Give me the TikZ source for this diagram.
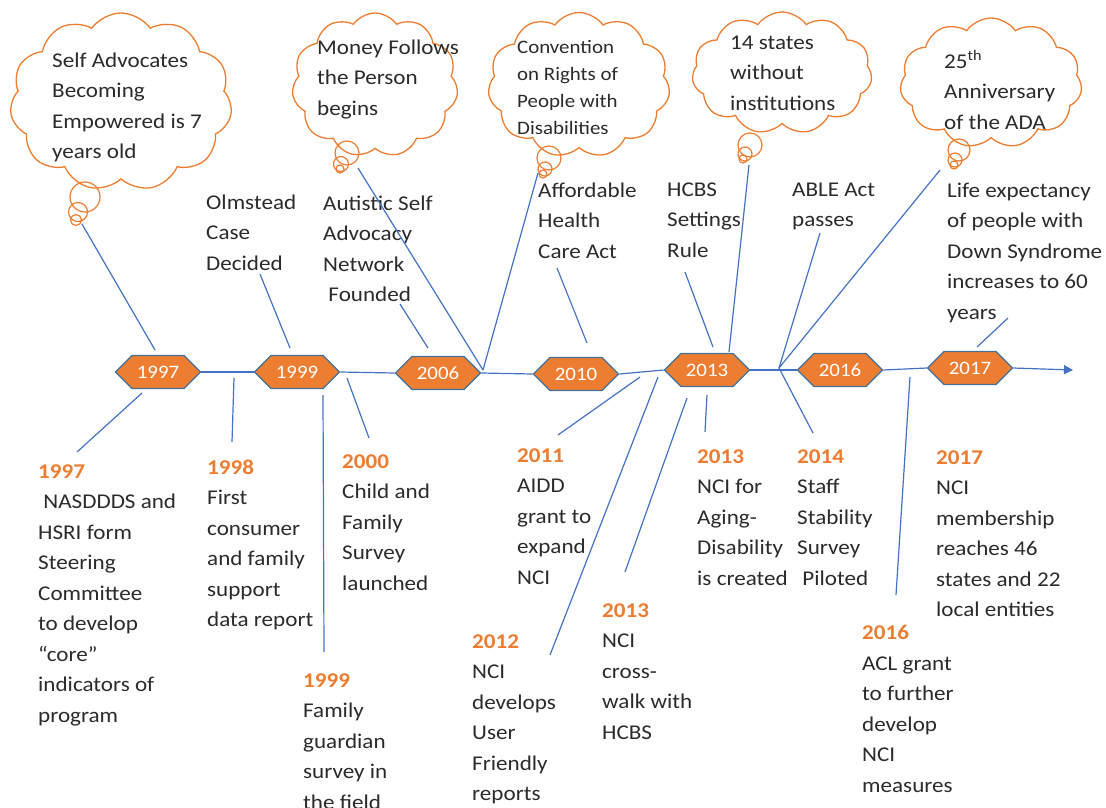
\documentclass[tikz,border=0pt]{standalone}
\usepackage{fontspec}
\setmainfont{Carlito}[FakeStretch=1.1]
\usetikzlibrary{shapes.symbols,arrows.meta}
\definecolor{org}{HTML}{ED7D31}
\definecolor{ln}{HTML}{4472C4}
\definecolor{hexb}{HTML}{41719C}
\definecolor{txtc}{HTML}{2B2B2B}
\newcommand\yearlbl[1]{\textcolor{org}{\bfseries #1}}
\begin{document}
\begin{tikzpicture}[x=1pt,y=-1pt,
 hexa/.style={signal, signal to=east and west, signal pointer angle=90, fill=org, draw=hexb, line width=1.2pt, minimum width=85pt, minimum height=33pt, inner sep=0pt, text=white, font=\fontsize{19}{21}\selectfont},
 cloudn/.style={cloud, cloud puffs=11, cloud puff arc=110, cloud ignores aspect, draw=org, line width=1.3pt, inner sep=0pt},
 bub/.style={circle, draw=org, line width=1.2pt, inner sep=0pt},
 conn/.style={draw=ln, line width=1.2pt},
 txt/.style={anchor=north west, yshift=7.6pt, inner sep=0pt, align=left, text=txtc, font=\fontsize{21}{30.5}\selectfont, execute at begin node=\strut},
 txts/.style={txt, yshift=-1pt, font=\fontsize{19}{27}\selectfont}
]
\useasboundingbox (0,0) rectangle (1106,807);
\fill[white] (0,0) rectangle (1106,807);

% clouds
\node[cloudn, minimum width=222pt, minimum height=178pt] (c1) at (121,102) {};
\node[cloudn, minimum width=166pt, minimum height=144pt] (c2) at (375,85) {};
\node[cloudn, minimum width=182pt, minimum height=145pt] (c3) at (579,85) {};
\node[cloudn, minimum width=180pt, minimum height=122pt] (c4) at (782,73) {};
\node[cloudn, minimum width=182pt, minimum height=130pt] (c5) at (991,83) {};

% bubbles
\node[bub, minimum size=30pt] (c1a) at (85,197) {};
\node[bub, minimum size=19pt] (c1b) at (78,212) {};
\node[bub, minimum size=11pt] (c1c) at (76,220) {};
\node[bub, minimum size=24pt] (c2a) at (347,153) {};
\node[bub, minimum size=15pt] (c2b) at (341,164) {};
\node[bub, minimum size=8pt] (c2c) at (340,169) {};
\node[bub, minimum size=24pt] (c3a) at (549,158) {};
\node[bub, minimum size=14pt] (c3b) at (545,169) {};
\node[bub, minimum size=8pt] (c3c) at (543,174) {};
\node[bub, minimum size=24pt] (c4a) at (750,145) {};
\node[bub, minimum size=14pt] (c4b) at (745,154) {};
\node[bub, minimum size=8pt] (c4c) at (743,159) {};
\node[bub, minimum size=22pt] (c5a) at (959,150) {};
\node[bub, minimum size=14pt] (c5b) at (955,160) {};
\node[bub, minimum size=8pt] (c5c) at (954,165) {};

% cloud texts
\node[txt] (c1t) at (52,60) {Self Advocates\\Becoming\\Empowered is 7\\years old};
\node[txt] (c2t) at (317,47) {Money Follows\\the Person\\begins};
\node[txts] (c3t) at (517,47) {Convention\\on Rights of\\People with\\Disabilities};
\node[txt] (c4t) at (730,43) {14 states\\without\\institutions};
\node[txt] (c5t) at (944,58) {25\textsuperscript{th}\\Anniversary\\of the ADA};

% upper texts
\node[txt] (olm) at (206,202) {Olmstead\\Case\\Decided};
\node[txt] (aut) at (323,203) {Autistic Self\\Advocacy\\Network\\\hspace*{0.25em}Founded};
\node[txt] (aff) at (538,190) {Affordable\\Health\\Care Act};
\node[txt] (hcbs) at (667,190) {HCBS\\Settings\\Rule};
\node[txt] (able) at (792,190) {ABLE Act\\passes};
\node[txt] (life) at (947,190) {Life expectancy\\of people with\\Down Syndrome\\increases to 60\\years};

% lower texts
\node[txt] (b97) at (38,472) {\yearlbl{1997}\\\hspace*{0.25em}NASDDDS and\\HSRI form\\Steering\\Committee\\to develop\\“core”\\indicators of\\program};
\node[txt] (b98) at (207,467) {\yearlbl{1998}\\First\\consumer\\and family\\support\\data report};
\node[txt] (b00) at (342,462) {\yearlbl{2000}\\Child and\\Family\\Survey\\launched};
\node[txt] (b99) at (303,681) {\yearlbl{1999}\\Family\\guardian\\survey in\\the field};
\node[txt] (b11) at (517,456) {\yearlbl{2011}\\AIDD\\grant to\\expand\\NCI};
\node[txt] (b12) at (472,642) {\yearlbl{2012}\\NCI\\develops\\User\\Friendly\\reports};
\node[txt] (b13a) at (602,611) {\yearlbl{2013}\\NCI\\cross-\\walk with\\HCBS};
\node[txt] (b13b) at (697,457) {\yearlbl{2013}\\NCI for\\Aging-\\Disability\\is created};
\node[txt] (b14) at (797,457) {\yearlbl{2014}\\Staff\\Stability\\Survey\\\hspace*{0.25em}Piloted};
\node[txt] (b17) at (936,458) {\yearlbl{2017}\\NCI\\membership\\reaches 46\\states and 22\\local entities};
\node[txt] (b16) at (862,633) {\yearlbl{2016}\\ACL grant\\to further\\develop\\NCI\\measures};

% timeline
\coordinate (tend) at (1073,370);
\node[hexa] (h97) at (158,372) {1997};
\node[hexa] (h99) at (297,372) {1999};
\node[hexa] (h06) at (438,373) {2006};
\node[hexa] (h10) at (576,374) {2010};
\node[hexa] (h13) at (707,370) {2013};
\node[hexa] (h16) at (840,370) {2016};
\node[hexa] (h17) at (970,368) {2017};
\draw[conn] (h97.east) -- (h99.west);
\draw[conn] (h99.east) -- (h06.west);
\draw[conn] (h06.east) -- (h10.west);
\draw[conn] (h10.east) -- (h13.west);
\draw[conn] (h13.east) -- (h16.west);
\draw[conn] (h16.east) -- (h17.west);
\draw[conn, -{Triangle[length=9pt,width=9pt]}] (h17.east) -- (tend);

% connector end points
\coordinate (j1) at (483,370);
\coordinate (j2) at (779,368);
\coordinate (u1a) at (82,224);   \coordinate (u1b) at (155,350);
\coordinate (u2a) at (260,274);  \coordinate (u2b) at (290,348);
\coordinate (u3a) at (400,304);  \coordinate (u3b) at (428,348);
\coordinate (u4a) at (358,168);
\coordinate (u5a) at (538,173);
\coordinate (u6a) at (557,268);  \coordinate (u6b) at (587,343);
\coordinate (u7a) at (685,272);  \coordinate (u7b) at (713,347);
\coordinate (u8a) at (749,165);  \coordinate (u8b) at (729,352);
\coordinate (u9a) at (820,233);
\coordinate (u10a) at (940,170);
\coordinate (u11a) at (1008,318); \coordinate (u11b) at (977,347);
\coordinate (d1a) at (142,393);  \coordinate (d1b) at (77,452);
\coordinate (d2a) at (234,378);  \coordinate (d2b) at (232,442);
\coordinate (d3a) at (323,395);  \coordinate (d3b) at (324,652);
\coordinate (d4a) at (347,378);  \coordinate (d4b) at (369,438);
\coordinate (d5a) at (640,377);  \coordinate (d5b) at (558,435);
\coordinate (d6a) at (658,377);  \coordinate (d6b) at (550,655);
\coordinate (d7a) at (687,398);  \coordinate (d7b) at (625,572);
\coordinate (d8a) at (707,395);  \coordinate (d8b) at (705,432);
\coordinate (d9b) at (813,433);
\coordinate (d10a) at (910,377); \coordinate (d10b) at (896,595);

\draw[conn] (u1a) -- (u1b);
\draw[conn] (u2a) -- (u2b);
\draw[conn] (u3a) -- (u3b);
\draw[conn] (u4a) -- (j1);
\draw[conn] (u5a) -- (j1);
\draw[conn] (u6a) -- (u6b);
\draw[conn] (u7a) -- (u7b);
\draw[conn] (u8a) -- (u8b);
\draw[conn] (u9a) -- (j2);
\draw[conn] (u10a) -- (j2);
\draw[conn] (u11a) -- (u11b);
\draw[conn] (d1a) -- (d1b);
\draw[conn] (d2a) -- (d2b);
\draw[conn] (d3a) -- (d3b);
\draw[conn] (d4a) -- (d4b);
\draw[conn] (d5a) -- (d5b);
\draw[conn] (d6a) -- (d6b);
\draw[conn] (d7a) -- (d7b);
\draw[conn] (d8a) -- (d8b);
\draw[conn] (j2) -- (d9b);
\draw[conn] (d10a) -- (d10b);
\end{tikzpicture}
\end{document}
